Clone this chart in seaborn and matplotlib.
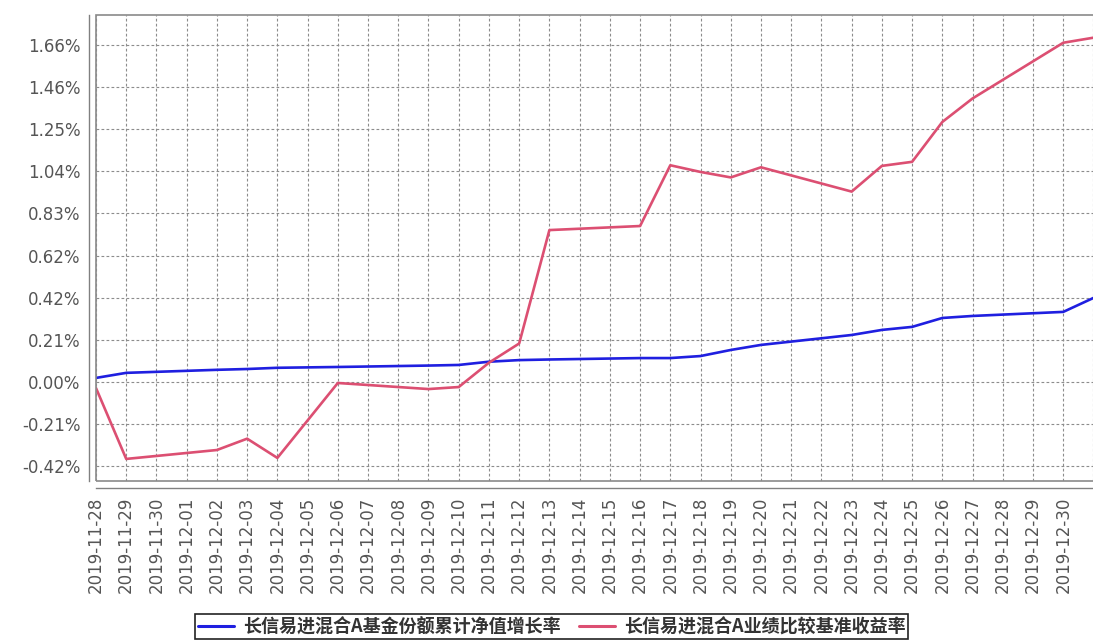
import numpy as np
import pandas as pd
import matplotlib
matplotlib.use("Agg")
import matplotlib.pyplot as plt
from matplotlib.patches import Rectangle
import seaborn as sns

# trading days shown on the chart
dates = ["2019-11-28", "2019-11-29", "2019-12-02", "2019-12-03", "2019-12-04",
         "2019-12-05", "2019-12-06", "2019-12-09", "2019-12-10", "2019-12-11",
         "2019-12-12", "2019-12-13", "2019-12-16", "2019-12-17", "2019-12-18",
         "2019-12-19", "2019-12-20", "2019-12-23", "2019-12-24", "2019-12-25",
         "2019-12-26", "2019-12-27", "2019-12-30", "2019-12-31"]

# cumulative NAV growth (%)
fund = [0.02, 0.045, 0.06, 0.064, 0.07, 0.072, 0.074, 0.081, 0.084, 0.10,
        0.108, 0.111, 0.118, 0.118, 0.128, 0.158, 0.183, 0.232, 0.257, 0.272,
        0.316, 0.326, 0.346, 0.415]

# benchmark return (%)
bench = [-0.03, -0.38, -0.336, -0.28, -0.375, -0.19, -0.005, -0.035, -0.025, 0.095,
         0.19, 0.75, 0.77, 1.07, 1.037, 1.01, 1.06, 0.94, 1.067, 1.087,
         1.284, 1.40, 1.675, 1.70]

fund_name = "长信易进混合A基金份额累计净值增长率"
bench_name = "长信易进混合A业绩比较基准收益率"

y_step = 0.208
y_ticks = np.arange(-2, 9) * y_step

df = pd.DataFrame({
    "date": pd.to_datetime(dates * 2),
    "value": fund + bench,
    "series": [fund_name] * len(fund) + [bench_name] * len(bench),
})

sns.set_style("white")
plt.rcParams["font.family"] = ["DejaVu Sans", "Noto Sans CJK SC"]

fig = plt.figure(figsize=(10.93, 6.44), dpi=100)
W, H = 1093, 644
left, right, top, bottom = 96, 1096, 15, 481
ax = fig.add_axes([left / W, 1 - bottom / H, (right - left) / W, (bottom - top) / H])

palette = {fund_name: "#1f1fe0", bench_name: "#dc4f72"}
sns.lineplot(data=df, x="date", y="value", hue="series", palette=palette,
             linewidth=1.9, ax=ax, legend=False)

x0 = pd.Timestamp("2019-11-28")
x1 = pd.Timestamp("2019-12-31")
tick_days = pd.date_range(x0, "2019-12-30", freq="D")

# dashed grid first, so the tick setup below is not disturbed
grid_kw = dict(color="#8c8c8c", linestyle=(0, (2.5, 2)), linewidth=0.8)
for d in list(tick_days) + [x1]:
    ax.axvline(d, zorder=0, **grid_kw)
for v in y_ticks:
    ax.axhline(v, zorder=0, **grid_kw)

ax.set_xlim(x0, x1 + pd.Timedelta(hours=2))
ax.set_ylim(-0.489, 1.812)

ax.set_xticks(tick_days)
ax.set_xticklabels([d.strftime("%Y-%m-%d") for d in tick_days])
ax.set_yticks(y_ticks)
ax.set_yticklabels([f"{v:.2f}%" for v in y_ticks])

ax.set_xlabel("")
ax.set_ylabel("")
ax.tick_params(axis="both", colors="#808080", labelcolor="#555555",
               labelsize=12, length=4, width=0.8, direction="out")
ax.tick_params(axis="x", pad=2, labelrotation=90)
ax.tick_params(axis="y", pad=2)

# offset axis lines plus the plot border
for s in ["top", "right"]:
    ax.spines[s].set_visible(False)
for s in ["left", "bottom"]:
    ax.spines[s].set_position(("outward", 5))
    ax.spines[s].set_color("#808080")
    ax.spines[s].set_linewidth(1.0)
ax.add_patch(Rectangle((0, 0), 1, 1, transform=ax.transAxes, fill=False,
                       edgecolor="#8a8a8a", linewidth=1.2, clip_on=False, zorder=5))

handles = [plt.Line2D([], [], color=palette[fund_name], linewidth=2.2),
           plt.Line2D([], [], color=palette[bench_name], linewidth=2.2)]
leg = fig.legend(handles, [fund_name, bench_name], loc="upper center",
                 bbox_to_anchor=(0.505, 0.046), ncol=2, frameon=True,
                 fancybox=False, edgecolor="#222222", framealpha=1,
                 prop={"family": ["Noto Sans CJK SC", "DejaVu Sans"], "size": 13,
                       "weight": "bold"},
                 handlelength=2.0, handletextpad=0.5, columnspacing=1.0,
                 borderpad=0.15, borderaxespad=0, labelcolor="#333333")
leg.get_frame().set_linewidth(1.2)

fig.savefig("out.png", dpi=100)
